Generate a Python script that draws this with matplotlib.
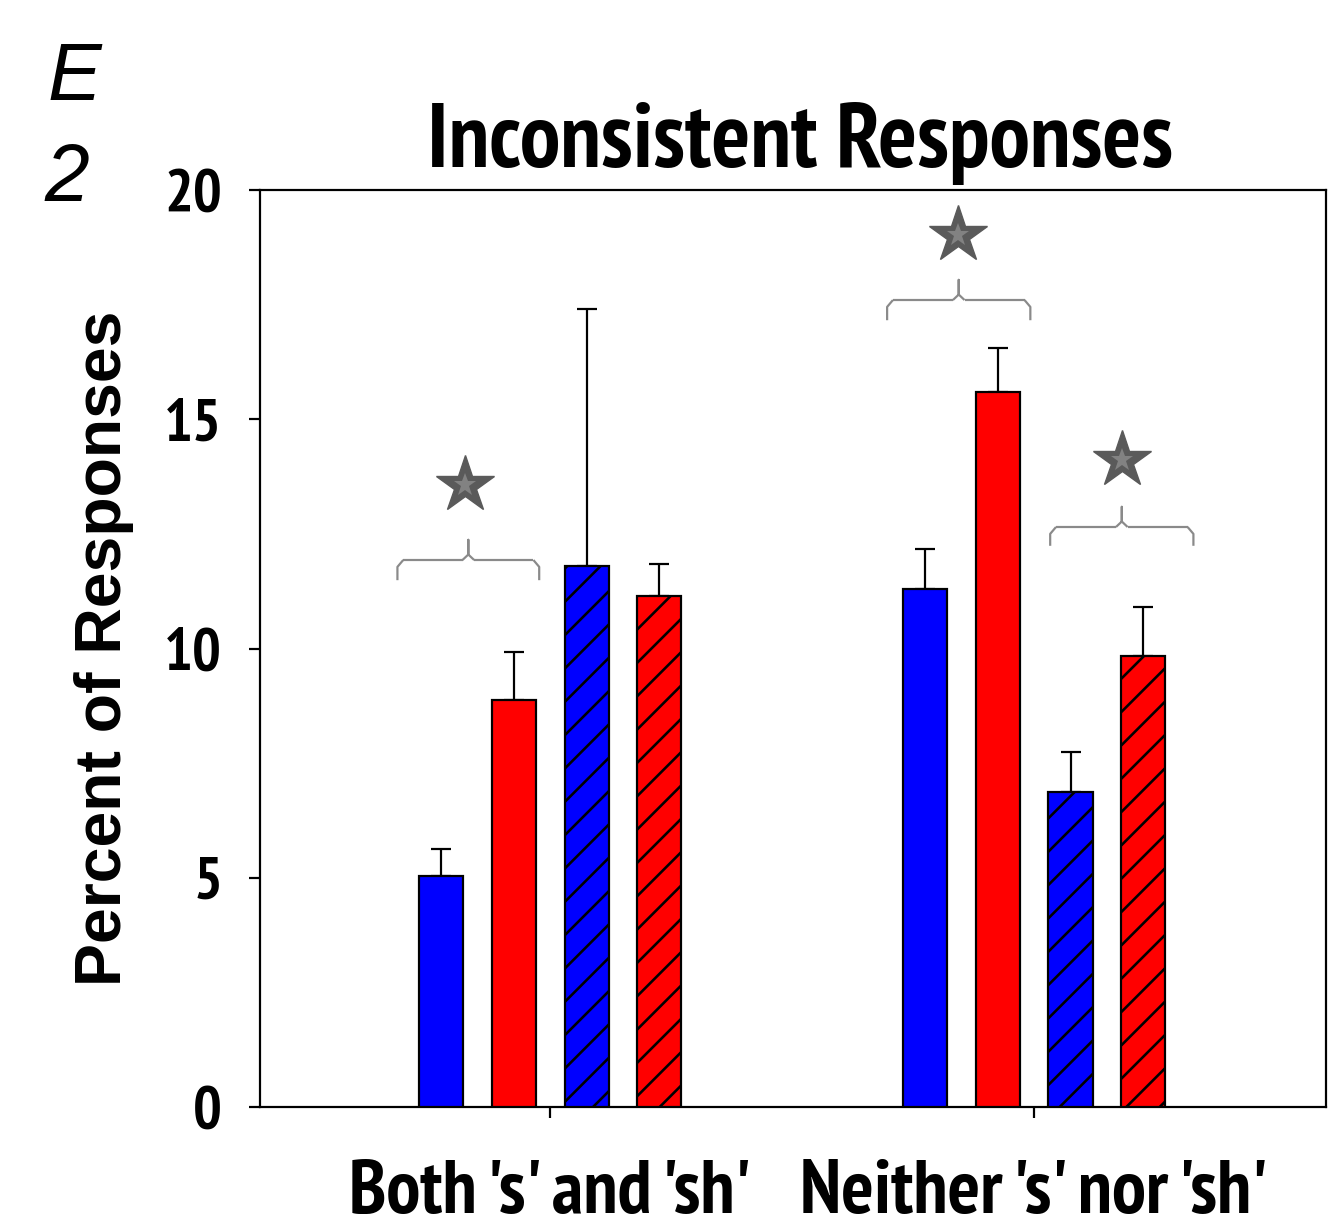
import matplotlib
matplotlib.use("Agg")
import matplotlib.pyplot as plt
import numpy as np
from matplotlib import font_manager

categories = ["Both 's' and 'sh'", "Neither 's' nor 'sh'"]
series_names = ["blue", "red", "blue hatched", "red hatched"]
values = {
    "blue":         [5.04, 11.3],
    "red":          [8.88, 15.6],
    "blue hatched": [11.8, 6.87],
    "red hatched":  [11.15, 9.84],
}
errors = {
    "blue":         [0.59, 0.87],
    "red":          [1.04, 0.95],
    "blue hatched": [5.6, 0.87],
    "red hatched":  [0.69, 1.06],
}
yticks = [0, 5, 10, 15, 20]

DPI = 200
PX = 72.0 / DPI  # points per pixel


def has_bold(name):
    for f in font_manager.fontManager.ttflist:
        if f.name == name:
            w = f.weight
            if isinstance(w, str):
                w = font_manager.weight_dict.get(w, 400)
            if w >= 700:
                return True
    return False


narrow = "Liberation Sans"
for cand in ["Liberation Sans Narrow", "Arial Narrow", "Nimbus Sans Narrow",
             "PT Sans Narrow", "Archivo Narrow", "Pragati Narrow",
             "Roboto Condensed"]:
    if has_bold(cand):
        narrow = cand
        break
arial = "Liberation Sans"

plt.rcParams['hatch.linewidth'] = 2.6 * PX
fig = plt.figure(figsize=(1339 / DPI, 1232 / DPI), dpi=DPI)
ax = fig.add_axes([260 / 1339, 1 - 1107 / 1232, 1066 / 1339, 917 / 1232])

colors = ["#0000ff", "#ff0000", "#0000ff", "#ff0000"]
hatches = [None, None, "//", "//"]
offsets = [-0.225, -0.075, 0.075, 0.225]
width = 0.091
x = np.arange(1, len(categories) + 1)

for name, c, h, off in zip(series_names, colors, hatches, offsets):
    ax.bar(x + off, values[name], width, color=c, edgecolor="black",
           linewidth=2.2 * PX, hatch=h, zorder=3)
    ax.errorbar(x + off, values[name], yerr=[np.zeros(len(x)), errors[name]],
                fmt="none", ecolor="black", elinewidth=2.2 * PX,
                capsize=10 * PX, capthick=2.2 * PX, zorder=2)

ax.set_xlim(0.4, 2.603)
ax.set_ylim(0, 20)
ax.set_yticks(yticks)
ax.set_yticklabels([str(t) for t in yticks], fontfamily=narrow,
                   fontweight="bold", fontsize=20)
ax.set_xticks(x)
ax.set_xticklabels(categories, fontfamily=narrow, fontweight="bold",
                   fontsize=20, va="baseline")
ax.tick_params(axis="both", direction="out", length=11 * PX, width=2.2 * PX)
ax.tick_params(axis="x", pad=95 * PX)
ax.tick_params(axis="y", pad=27 * PX)
for s in ax.spines.values():
    s.set_linewidth(2.2 * PX)

ylab = ax.set_ylabel("Percent of Responses", fontfamily=arial,
                     fontweight="bold", fontsize=20)
ax.yaxis.set_label_coords((134 - 260) / 1066, 0.5)
title = ax.set_title("Inconsistent Responses", fontfamily=narrow,
                     fontweight="bold", fontsize=20, pad=0,
                     x=(800 - 260) / 1066, y=1 + 23 / 917, va="baseline")


# fit text sizes to the reference pixel extents
def fit(texts, target, dim="width"):
    r = fig.canvas.get_renderer()
    ws = []
    for t in texts:
        bb = t.get_window_extent(r)
        ws.append(bb.width if dim == "width" else bb.height)
    scale = target / np.mean(ws)
    for t in texts:
        t.set_fontsize(t.get_fontsize() * scale)


fig.canvas.draw()
fit([title], 746)
fit(ax.get_xticklabels(), (410 + 460) / 2)
ylbls = ax.get_yticklabels()
fit([ylbls[-1]], 58)
fs = ylbls[-1].get_fontsize()
for t in ylbls:
    t.set_fontsize(fs)
fit([ylab], 675, dim="height")


# significance brackets and stars
def brace(x0, x1, y, drop, rise):
    xm = (x0 + x1) / 2
    r = 0.012
    col = "#8a8a8a"
    lw = 2.2 * PX
    kw = dict(color=col, lw=lw, zorder=4, solid_capstyle="butt")
    ax.plot([x0, x0, x0 + r], [y - drop, y - 0.15, y], **kw)
    ax.plot([x0 + r, xm - r], [y, y], **kw)
    ax.plot([xm - r, xm, xm, xm, xm + r], [y, y + 0.12, y + rise, y + 0.12, y], **kw)
    ax.plot([xm + r, x1 - r], [y, y], **kw)
    ax.plot([x1 - r, x1, x1], [y, y - 0.15, y - drop], **kw)


def star(xs, ys):
    ax.plot(xs, ys, marker="*", markersize=60 * PX, color="#5a5a5a",
            markeredgecolor="#5a5a5a", markeredgewidth=0.5, zorder=5)
    ax.plot(xs, ys, marker="*", markersize=24 * PX, color="#828282",
            markeredgewidth=0, zorder=6)


brace(0.684, 0.977, 11.93, 0.44, 0.44)
star(0.824, 13.57)
brace(1.696, 1.992, 17.6, 0.44, 0.44)
star(1.843, 19.02)
brace(2.033, 2.329, 12.65, 0.41, 0.44)
star(2.182, 14.11)

fig.text(48 / 1339, 1 - 100 / 1232, "E", fontfamily=arial, fontstyle="italic",
         fontsize=29, ha="left", va="baseline")
fig.text(44 / 1339, 1 - 201 / 1232, "2", fontfamily=arial, fontstyle="italic",
         fontsize=29, ha="left", va="baseline")

fig.savefig("out.png", dpi=DPI)
